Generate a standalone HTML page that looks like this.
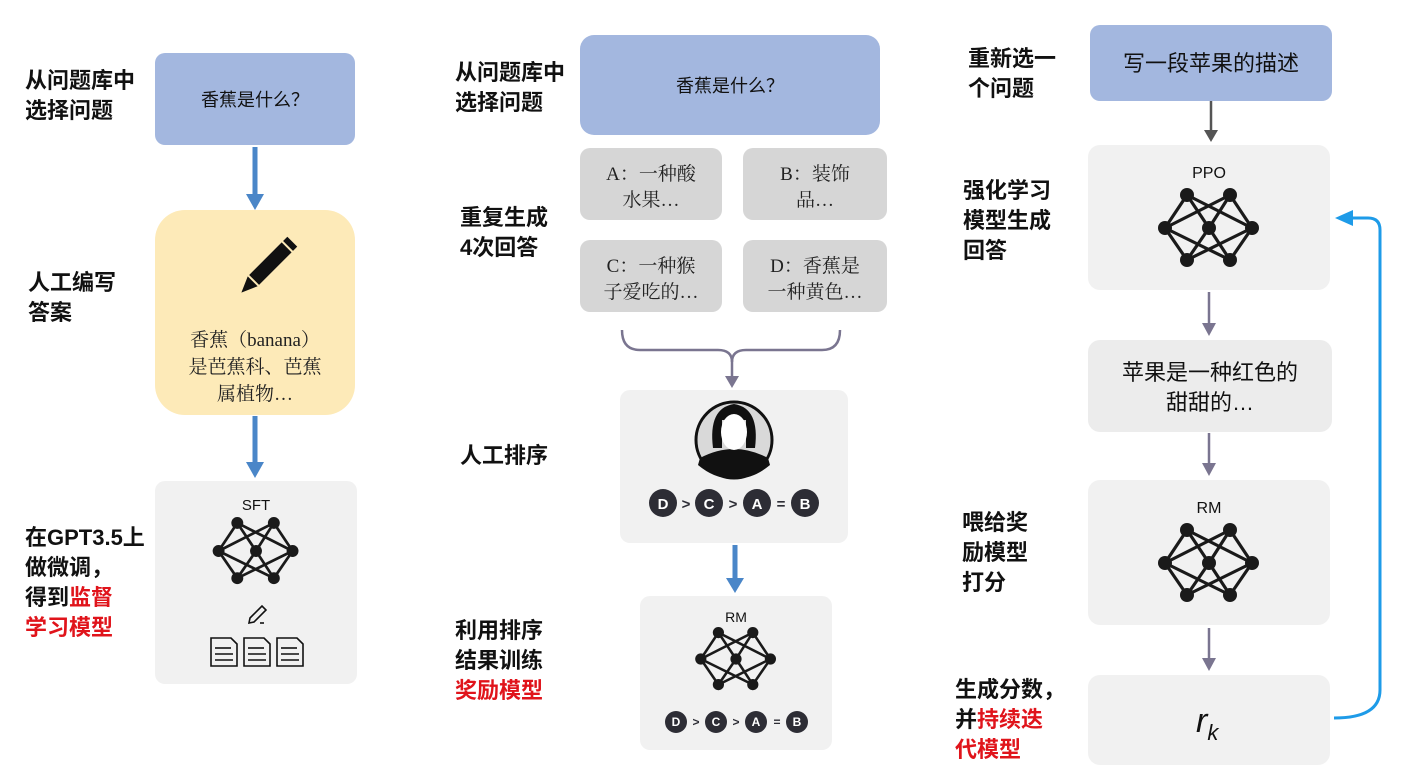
<!DOCTYPE html>
<html><head><meta charset="utf-8"><style>
body{margin:0;background:#fff;}
svg{display:block;}
text{font-family:"Liberation Sans","Noto Sans CJK SC",sans-serif;}
.lb{font-size:22px;font-weight:bold;fill:#111;}
.red{fill:#e0141b;}
.bx{font-family:"Liberation Serif","Noto Serif CJK SC",serif;font-size:19px;fill:#222;}
</style></head><body>
<svg width="1408" height="782" viewBox="0 0 1408 782" xmlns="http://www.w3.org/2000/svg">
<defs>
<g id="net">
 <g stroke="#1a1a1a" stroke-width="3.2">
  <line x1="-22" y1="-33" x2="-44" y2="0"/><line x1="-22" y1="-33" x2="0" y2="0"/><line x1="-22" y1="-33" x2="43" y2="0"/>
  <line x1="21" y1="-33" x2="-44" y2="0"/><line x1="21" y1="-33" x2="0" y2="0"/><line x1="21" y1="-33" x2="43" y2="0"/>
  <line x1="-22" y1="32" x2="-44" y2="0"/><line x1="-22" y1="32" x2="0" y2="0"/><line x1="-22" y1="32" x2="43" y2="0"/>
  <line x1="21" y1="32" x2="-44" y2="0"/><line x1="21" y1="32" x2="0" y2="0"/><line x1="21" y1="32" x2="43" y2="0"/>
 </g>
 <g fill="#1a1a1a">
  <circle cx="-22" cy="-33" r="7"/><circle cx="21" cy="-33" r="7"/>
  <circle cx="-44" cy="0" r="7"/><circle cx="0" cy="0" r="7"/><circle cx="43" cy="0" r="7"/>
  <circle cx="-22" cy="32" r="7"/><circle cx="21" cy="32" r="7"/>
 </g>
</g>
</defs>

<!-- Column 1 -->
<text class="lb" x="25" y="88">从问题库中</text>
<text class="lb" x="25" y="118">选择问题</text>
<rect x="155" y="53" width="200" height="92" rx="10" fill="#a3b7df"/>
<text x="255" y="106" text-anchor="middle" font-size="18" fill="#111">香蕉是什么？</text>
<line x1="255" y1="147" x2="255" y2="196" stroke="#4a86c8" stroke-width="5"/>
<path d="M246,194 L264,194 L255,210z" fill="#4a86c8"/>
<rect x="155" y="210" width="200" height="205" rx="30" fill="#fdeab8"/>
<g transform="translate(264,270) rotate(45)">
 <rect x="-7" y="-32" width="14" height="46" fill="#111"/>
 <rect x="-7" y="-40" width="14" height="6" fill="#111"/>
 <path d="M-7,16 L7,16 L0,32z" fill="#111"/>
</g>
<text class="bx" x="255" y="346" text-anchor="middle" font-size="20">香蕉（banana）</text>
<text class="bx" x="255" y="373" text-anchor="middle" font-size="20">是芭蕉科、芭蕉</text>
<text class="bx" x="255" y="400" text-anchor="middle" font-size="20">属植物…</text>
<text class="lb" x="28" y="290">人工编写</text>
<text class="lb" x="28" y="320">答案</text>
<line x1="255" y1="416" x2="255" y2="464" stroke="#4a86c8" stroke-width="5"/>
<path d="M246,462 L264,462 L255,478z" fill="#4a86c8"/>
<rect x="155" y="481" width="202" height="203" rx="10" fill="#f1f1f1"/>
<text x="256" y="510" text-anchor="middle" font-size="15" fill="#111">SFT</text>
<use href="#net" transform="translate(256,551) scale(0.85)"/>
<g stroke="#111" stroke-width="1.6" fill="none">
 <path d="M250,618 L262,606 L266,610 L254,622 L249,623z"/><line x1="260" y1="623" x2="264" y2="623"/>
 <path d="M211,638 h20 l6,6 v22 h-26z"/><path d="M244,638 h20 l6,6 v22 h-26z"/><path d="M277,638 h20 l6,6 v22 h-26z"/>
 <line x1="215" y1="648" x2="231" y2="648"/><line x1="215" y1="654" x2="233" y2="654"/><line x1="215" y1="660" x2="233" y2="660"/>
 <line x1="248" y1="648" x2="264" y2="648"/><line x1="248" y1="654" x2="266" y2="654"/><line x1="248" y1="660" x2="266" y2="660"/>
 <line x1="281" y1="648" x2="297" y2="648"/><line x1="281" y1="654" x2="299" y2="654"/><line x1="281" y1="660" x2="299" y2="660"/>
</g>
<text class="lb" x="25" y="545">在GPT3.5上</text>
<text class="lb" x="25" y="575">做微调，</text>
<text class="lb" x="25" y="605">得到<tspan class="red">监督</tspan></text>
<text class="lb red" x="25" y="635">学习模型</text>

<!-- Column 2 -->
<text class="lb" x="455" y="80">从问题库中</text>
<text class="lb" x="455" y="110">选择问题</text>
<rect x="580" y="35" width="300" height="100" rx="14" fill="#a3b7df"/>
<text x="730" y="92" text-anchor="middle" font-size="18" fill="#111">香蕉是什么？</text>
<rect x="580" y="148" width="142" height="72" rx="10" fill="#d6d6d6"/>
<rect x="743" y="148" width="144" height="72" rx="10" fill="#d6d6d6"/>
<rect x="580" y="240" width="142" height="72" rx="10" fill="#d6d6d6"/>
<rect x="743" y="240" width="144" height="72" rx="10" fill="#d6d6d6"/>
<text class="bx" x="651" y="180" text-anchor="middle">A：一种酸</text>
<text class="bx" x="651" y="206" text-anchor="middle">水果…</text>
<text class="bx" x="815" y="180" text-anchor="middle">B：装饰</text>
<text class="bx" x="815" y="206" text-anchor="middle">品…</text>
<text class="bx" x="651" y="272" text-anchor="middle">C：一种猴</text>
<text class="bx" x="651" y="298" text-anchor="middle">子爱吃的…</text>
<text class="bx" x="815" y="272" text-anchor="middle">D：香蕉是</text>
<text class="bx" x="815" y="298" text-anchor="middle">一种黄色…</text>
<text class="lb" x="460" y="225">重复生成</text>
<text class="lb" x="460" y="255">4次回答</text>
<path d="M622,330 Q622,350 640,350 L718,350 Q732,350 732,362 Q732,350 746,350 L822,350 Q840,350 840,330" fill="none" stroke="#7a7590" stroke-width="2.5"/>
<line x1="732" y1="360" x2="732" y2="378" stroke="#7a7590" stroke-width="2.5"/>
<path d="M725,376 L739,376 L732,388z" fill="#7a7590"/>
<rect x="620" y="390" width="228" height="153" rx="10" fill="#f1f1f1"/>
<circle cx="734" cy="440" r="38" fill="#d9d9d9" stroke="#111" stroke-width="3"/>
<path d="M700,458 Q734,440 768,458 L770,465 Q752,480 734,478 Q716,480 698,465z" fill="#111"/>
<path d="M713,448 Q708,408 734,404 Q760,408 755,448 L746,448 L746,420 L722,420 L722,448z" fill="#111"/>
<ellipse cx="734" cy="432" rx="13" ry="18" fill="#fff"/>
<g font-size="15" font-weight="bold" text-anchor="middle">
 <circle cx="663" cy="503" r="14" fill="#2d2d35"/><text x="663" y="509" fill="#fff">D</text>
 <text x="686" y="509" fill="#2d2d35">&gt;</text>
 <circle cx="709" cy="503" r="14" fill="#2d2d35"/><text x="709" y="509" fill="#fff">C</text>
 <text x="733" y="509" fill="#2d2d35">&gt;</text>
 <circle cx="757" cy="503" r="14" fill="#2d2d35"/><text x="757" y="509" fill="#fff">A</text>
 <text x="781" y="509" fill="#2d2d35">=</text>
 <circle cx="805" cy="503" r="14" fill="#2d2d35"/><text x="805" y="509" fill="#fff">B</text>
</g>
<text class="lb" x="460" y="463">人工排序</text>
<line x1="735" y1="545" x2="735" y2="580" stroke="#4a86c8" stroke-width="5"/>
<path d="M726,578 L744,578 L735,593z" fill="#4a86c8"/>
<rect x="640" y="596" width="192" height="154" rx="10" fill="#f1f1f1"/>
<text x="736" y="622" text-anchor="middle" font-size="14" fill="#111">RM</text>
<use href="#net" transform="translate(736,659) scale(0.8)"/>
<g font-size="12" font-weight="bold" text-anchor="middle">
 <circle cx="676" cy="722" r="11" fill="#2d2d35"/><text x="676" y="726" fill="#fff">D</text>
 <text x="696" y="726" fill="#2d2d35">&gt;</text>
 <circle cx="716" cy="722" r="11" fill="#2d2d35"/><text x="716" y="726" fill="#fff">C</text>
 <text x="736" y="726" fill="#2d2d35">&gt;</text>
 <circle cx="756" cy="722" r="11" fill="#2d2d35"/><text x="756" y="726" fill="#fff">A</text>
 <text x="777" y="726" fill="#2d2d35">=</text>
 <circle cx="797" cy="722" r="11" fill="#2d2d35"/><text x="797" y="726" fill="#fff">B</text>
</g>
<text class="lb" x="455" y="638">利用排序</text>
<text class="lb" x="455" y="668">结果训练</text>
<text class="lb red" x="455" y="698">奖励模型</text>

<!-- Column 3 -->
<text class="lb" x="968" y="66">重新选一</text>
<text class="lb" x="968" y="96">个问题</text>
<rect x="1090" y="25" width="242" height="76" rx="10" fill="#a3b7df"/>
<text x="1211" y="71" text-anchor="middle" font-size="22" fill="#111">写一段苹果的描述</text>
<line x1="1211" y1="101" x2="1211" y2="132" stroke="#555" stroke-width="2.5"/>
<path d="M1204,130 L1218,130 L1211,142z" fill="#555"/>
<rect x="1088" y="145" width="242" height="145" rx="12" fill="#f1f1f1"/>
<text x="1209" y="178" text-anchor="middle" font-size="16" fill="#111">PPO</text>
<use href="#net" transform="translate(1209,228)"/>
<text class="lb" x="963" y="198">强化学习</text>
<text class="lb" x="963" y="228">模型生成</text>
<text class="lb" x="963" y="258">回答</text>
<line x1="1209" y1="292" x2="1209" y2="325" stroke="#7a7590" stroke-width="2.5"/>
<path d="M1202,323 L1216,323 L1209,336z" fill="#7a7590"/>
<rect x="1088" y="340" width="244" height="92" rx="12" fill="#ececec"/>
<text x="1210" y="380" text-anchor="middle" font-size="22" fill="#111">苹果是一种红色的</text>
<text x="1210" y="410" text-anchor="middle" font-size="22" fill="#111">甜甜的…</text>
<line x1="1209" y1="433" x2="1209" y2="465" stroke="#7a7590" stroke-width="2.5"/>
<path d="M1202,463 L1216,463 L1209,476z" fill="#7a7590"/>
<rect x="1088" y="480" width="242" height="145" rx="12" fill="#f1f1f1"/>
<text x="1209" y="513" text-anchor="middle" font-size="16" fill="#111">RM</text>
<use href="#net" transform="translate(1209,563)"/>
<text class="lb" x="962" y="530">喂给奖</text>
<text class="lb" x="962" y="560">励模型</text>
<text class="lb" x="962" y="590">打分</text>
<line x1="1209" y1="628" x2="1209" y2="660" stroke="#7a7590" stroke-width="2.5"/>
<path d="M1202,658 L1216,658 L1209,671z" fill="#7a7590"/>
<rect x="1088" y="675" width="242" height="90" rx="12" fill="#f1f1f1"/>
<text x="1196" y="732" font-family="Liberation Sans,sans-serif" font-style="italic" font-size="34" fill="#111">r<tspan font-size="22" dy="8">k</tspan></text>
<text class="lb" x="955" y="697">生成分数，</text>
<text class="lb" x="955" y="727">并<tspan class="red">持续迭</tspan></text>
<text class="lb red" x="955" y="757">代模型</text>
<path d="M1334,718 Q1380,718 1380,690 L1380,230 Q1380,218 1368,218 L1350,218" fill="none" stroke="#1e9be8" stroke-width="3"/>
<path d="M1353,210 L1335,218 L1353,226z" fill="#1e9be8"/>
</svg>
</body></html>
